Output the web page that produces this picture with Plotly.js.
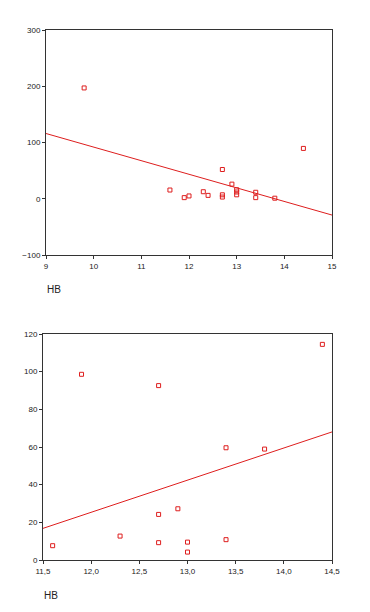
<!DOCTYPE html>
<html><head><meta charset="utf-8">
<script src="https://cdn.plot.ly/plotly-3.0.1.min.js"></script>
<style>html,body{margin:0;padding:0;background:#fff}#c{width:370px;height:612px}</style>
</head><body><div id="c"></div>
<script>
// Top chart
const topX = [9.8, 11.6, 11.9, 12.0, 12.3, 12.4, 12.7, 12.7, 12.7, 12.9, 13.0, 13.0, 13.0, 13.4, 13.4, 13.8, 14.4];
const topY = [197, 15.5, 2, 5, 12.5, 6, 52, 7, 3, 26, 16, 12, 7, 11.5, 2, 1, 89.5];
const topFitX = [9, 15];
const topFitY = [116, -29];
const topXTicks = [9, 10, 11, 12, 13, 14, 15];
const topYTicks = [-100, 0, 100, 200, 300];
// Bottom chart
const botX = [11.6, 11.9, 12.3, 12.7, 12.7, 12.7, 12.9, 13.0, 13.0, 13.4, 13.4, 13.8, 14.4];
const botY = [7.6, 98.6, 12.7, 92.6, 24.2, 9.2, 27.2, 9.5, 4.2, 59.6, 10.8, 58.9, 114.5];
const botFitX = [11.5, 14.5];
const botFitY = [16.8, 68.0];
const botXTicks = [11.5, 12.0, 12.5, 13.0, 13.5, 14.0, 14.5];
const botYTicks = [0, 20, 40, 60, 80, 100, 120];
const xLabel = 'HB';

const red = 'rgb(222,30,30)';
const mk = {symbol: 'square-open', size: 4, color: red, line: {color: red, width: 1}};
const traces = [
  {x: topX, y: topY, mode: 'markers', type: 'scatter', marker: mk, xaxis: 'x', yaxis: 'y', hoverinfo: 'none'},
  {x: topFitX, y: topFitY, mode: 'lines', type: 'scatter', line: {color: red, width: 1}, xaxis: 'x', yaxis: 'y', hoverinfo: 'none'},
  {x: botX, y: botY, mode: 'markers', type: 'scatter', marker: mk, xaxis: 'x2', yaxis: 'y2', hoverinfo: 'none'},
  {x: botFitX, y: botFitY, mode: 'lines', type: 'scatter', line: {color: red, width: 1}, xaxis: 'x2', yaxis: 'y2', hoverinfo: 'none'}
];
const tf = {family: 'Liberation Sans, Arial, sans-serif', size: 8, color: '#222'};
const ax = {showgrid: false, zeroline: false, showline: true, mirror: true, linecolor: '#333', linewidth: 1,
  ticks: 'outside', ticklen: 3, tickwidth: 1, tickcolor: '#333', tickfont: tf, fixedrange: true};
const layout = {
  width: 370, height: 612, margin: {l: 0, r: 0, t: 0, b: 0},
  paper_bgcolor: '#fff', plot_bgcolor: '#fff', showlegend: false,
  separators: ',.',
  xaxis: Object.assign({}, ax, {domain: [46/370, 332/370], range: [9, 15], tickvals: topXTicks, anchor: 'y'}),
  yaxis: Object.assign({}, ax, {domain: [1 - 255/612, 1 - 30/612], range: [-100, 300], tickvals: topYTicks, anchor: 'x'}),
  xaxis2: Object.assign({}, ax, {domain: [43/370, 332/370], range: [11.5, 14.5], tickvals: botXTicks, tickformat: '.1f', anchor: 'y2'}),
  yaxis2: Object.assign({}, ax, {domain: [1 - 560/612, 1 - 334/612], range: [0, 120], tickvals: botYTicks, anchor: 'x2'}),
  annotations: [
    {text: xLabel, xref: 'paper', yref: 'paper', x: 45/370, y: 1 - 289/612, xanchor: 'left', yanchor: 'middle', showarrow: false, font: {family: 'Liberation Sans, Arial, sans-serif', size: 10, color: '#222'}},
    {text: xLabel, xref: 'paper', yref: 'paper', x: 42/370, y: 1 - 595/612, xanchor: 'left', yanchor: 'middle', showarrow: false, font: {family: 'Liberation Sans, Arial, sans-serif', size: 10, color: '#222'}}
  ]
};
Plotly.newPlot('c', traces, layout, {staticPlot: true, displayModeBar: false});
</script></body></html>
